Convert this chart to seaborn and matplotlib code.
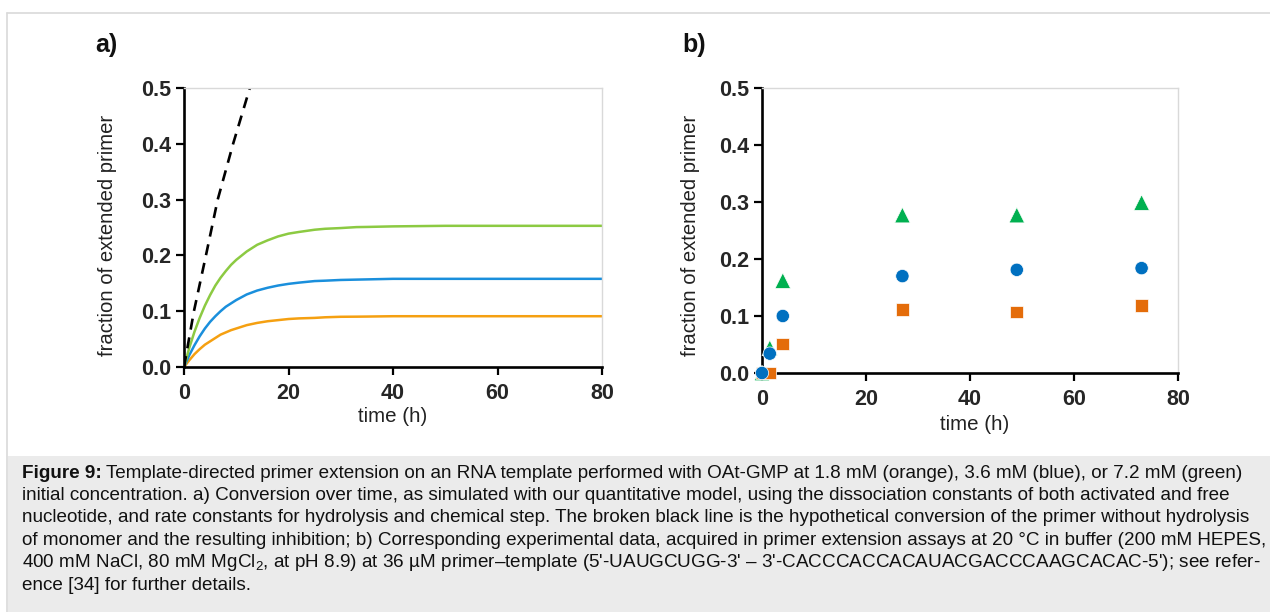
import matplotlib
matplotlib.use("Agg")
import matplotlib.pyplot as plt
from matplotlib import font_manager
import seaborn as sns
import pandas as pd
from matplotlib.patches import Rectangle
from matplotlib.lines import Line2D

# ---------------- data ----------------
sim_t = [0, 1, 2, 3, 4, 5, 6, 7, 8, 9, 10, 12, 14, 16, 18, 20, 22, 25, 27, 30, 33, 35, 40, 50, 60, 70, 80]
sim_orange = [0, .012, .023, .032, .040, .046, .052, .058, .062, .066, .069, .075, .079, .082,
              .084, .086, .0871, .088, .0891, .090, .0902, .0904, .091, .091, .091, .091, .091]
sim_blue = [0, .021, .039, .055, .069, .081, .091, .100, .108, .114, .120, .130, .137, .142,
            .146, .149, .1512, .154, .1547, .156, .1566, .157, .158, .158, .158, .158, .158]
sim_green = [0, .034, .063, .088, .110, .129, .146, .160, .172, .183, .192, .207, .219, .227,
             .234, .239, .242, .246, .2477, .249, .2507, .251, .252, .253, .253, .253, .253]
dash_t = [0, 1.9, 4.2, 6.45, 9.4, 12.6]
dash_y = [0, 0.1, 0.2, 0.3, 0.4, 0.5]

exp_t = [0, 1.5, 4, 27, 49, 73]
exp_orange = [0, 0.0, 0.051, 0.111, 0.107, 0.118]
exp_blue = [0, 0.034, 0.100, 0.170, 0.181, 0.184]
exp_green = [0, 0.044, 0.162, 0.277, 0.277, 0.299]

series_names = ["1.8 mM", "3.6 mM", "7.2 mM"]
x_ticks = [0, 20, 40, 60, 80]
y_ticks = [0.0, 0.1, 0.2, 0.3, 0.4, 0.5]

caption_lines = [
    "Template-directed primer extension on an RNA template performed with OAt-GMP at 1.8 mM (orange), 3.6 mM (blue), or 7.2 mM (green)",
    "initial concentration. a) Conversion over time, as simulated with our quantitative model, using the dissociation constants of both activated and free",
    "nucleotide, and rate constants for hydrolysis and chemical step. The broken black line is the hypothetical conversion of the primer without hydrolysis",
    "of monomer and the resulting inhibition; b) Corresponding experimental data, acquired in primer extension assays at 20 °C in buffer (200 mM HEPES,",
    "400 mM NaCl, 80 mM MgCl$_\\mathrm{2}$, at pH 8.9) at 36 µM primer–template (5'-UAUGCUGG-3' – 3'-CACCCACCACAUACGACCCAAGCACAC-5'); see refer-",
    "ence [34] for further details.",
]

# ---------------- style ----------------
sns.set_theme(style="white")
installed = {f.name for f in font_manager.fontManager.ttflist}
narrow = "Liberation Sans Narrow" if "Liberation Sans Narrow" in installed else "Liberation Sans"
plt.rcParams["font.family"] = ["Liberation Sans", "DejaVu Sans"]
plt.rcParams["mathtext.fontset"] = "custom"
plt.rcParams["mathtext.rm"] = "Liberation Sans"
plt.rcParams["mathtext.it"] = "Liberation Sans:italic"

W, H = 1270, 612
fig = plt.figure(figsize=(W / 100, H / 100), dpi=100)

def fx(px):
    return px / W

def fy(py):
    return 1 - py / H

# frame & caption box
fig.patches.append(Rectangle((fx(8), 0), 1 - fx(8), fy(456), transform=fig.transFigure,
                             facecolor="#ebebeb", edgecolor="none", zorder=0))
fig.lines.append(Line2D([fx(7), 1], [fy(13), fy(13)], transform=fig.transFigure, color="#d9d9d9", lw=1.2))
fig.lines.append(Line2D([fx(7), fx(7)], [0, fy(13)], transform=fig.transFigure, color="#d9d9d9", lw=1.2))

ax_a = fig.add_axes([fx(184), fy(367), fx(602 - 184), (367 - 88) / H])
ax_b = fig.add_axes([fx(762), fy(373), fx(1178 - 762), (373 - 88) / H])

n = len(sim_t)
sim_df = pd.DataFrame({
    "t": sim_t * 3,
    "y": sim_orange + sim_blue + sim_green,
    "series": [series_names[0]] * n + [series_names[1]] * n + [series_names[2]] * n,
})
sns.lineplot(data=sim_df, x="t", y="y", hue="series", ax=ax_a, legend=False,
             palette={series_names[0]: "#f5a011", series_names[1]: "#1a8fdc", series_names[2]: "#8cca42"},
             linewidth=1.8, estimator=None, sort=False)
dash_df = pd.DataFrame({"t": dash_t, "y": dash_y})
sns.lineplot(data=dash_df, x="t", y="y", ax=ax_a, color="black", linewidth=1.9,
             estimator=None, sort=False)
ax_a.lines[-1].set_dashes([4.2, 3.0])

exp_df = pd.DataFrame({
    "t": exp_t * 3,
    "y": exp_green + exp_orange + exp_blue,
    "series": [series_names[2]] * 6 + [series_names[0]] * 6 + [series_names[1]] * 6,
})
sns.scatterplot(data=exp_df, x="t", y="y", hue="series", style="series", size="series", ax=ax_b, legend=False,
                palette={series_names[0]: "#e46c0a", series_names[1]: "#0070c0", series_names[2]: "#00b050"},
                markers={series_names[0]: "s", series_names[1]: "o", series_names[2]: "^"},
                sizes={series_names[0]: 85, series_names[1]: 92, series_names[2]: 125},
                edgecolor="white", linewidth=0.5, clip_on=False, zorder=4)

label_coords = {
    "a": dict(ylab=(-0.182, 0.47), xlab=(0.5, -0.179)),
    "b": dict(ylab=(-0.173, 0.484), xlab=(0.512, -0.179)),
}

for ax, lab in ((ax_a, "a"), (ax_b, "b")):
    ax.set_xlim(0, 80)
    ax.set_ylim(0, 0.5)
    ax.set_xticks(x_ticks)
    ax.set_yticks(y_ticks)
    ax.set_xticklabels([str(v) for v in x_ticks], fontfamily=narrow, fontweight="bold", fontsize=15.5)
    ax.set_yticklabels([f"{v:.1f}" for v in y_ticks], fontfamily=narrow, fontweight="bold", fontsize=15.5)
    ax.tick_params(axis="both", which="major", direction="out", length=5.5, width=1.6, color="black",
                   bottom=True, left=True)
    ax.tick_params(axis="x", pad=6)
    ax.tick_params(axis="y", pad=3.5)
    ax.set_xlabel("time (h)", fontfamily=narrow, fontsize=14.8, color="#222222")
    ax.set_ylabel("fraction of extended primer", fontfamily=narrow, fontsize=14.6, color="#222222")
    ax.yaxis.set_label_coords(*label_coords[lab]["ylab"])
    ax.xaxis.set_label_coords(*label_coords[lab]["xlab"])
    ax.yaxis.label.set_va("center")
    ax.xaxis.label.set_va("center")
    for s in ("left", "bottom"):
        ax.spines[s].set_color("black")
        ax.spines[s].set_linewidth(1.9)
    for s in ("top", "right"):
        ax.spines[s].set_color("#d9d9d9")
        ax.spines[s].set_linewidth(1.0)
    ax.set_facecolor("white")

fig.text(fx(95), fy(45), "a)", fontsize=18, fontweight="bold", va="center", ha="left", color="#111111")
fig.text(fx(682), fy(45), "b)", fontsize=18, fontweight="bold", va="center", ha="left", color="#111111")

# caption
cap_size = 13.6
renderer = fig.canvas.get_renderer()
y0 = 473
dy = 22.4
t_bold = fig.text(fx(22), fy(y0), "Figure 9:", fontsize=cap_size, fontweight="bold", va="center", ha="left", color="#111111")
bb = t_bold.get_window_extent(renderer=renderer)
sp = 4
fig.text((bb.x1 + sp) / W, fy(y0), caption_lines[0], fontsize=cap_size, va="center", ha="left", color="#111111")
for i, line in enumerate(caption_lines[1:], start=1):
    fig.text(fx(22), fy(y0 + i * dy), line, fontsize=cap_size, va="center", ha="left", color="#111111")

fig.savefig("out.png", dpi=100, facecolor="white")
